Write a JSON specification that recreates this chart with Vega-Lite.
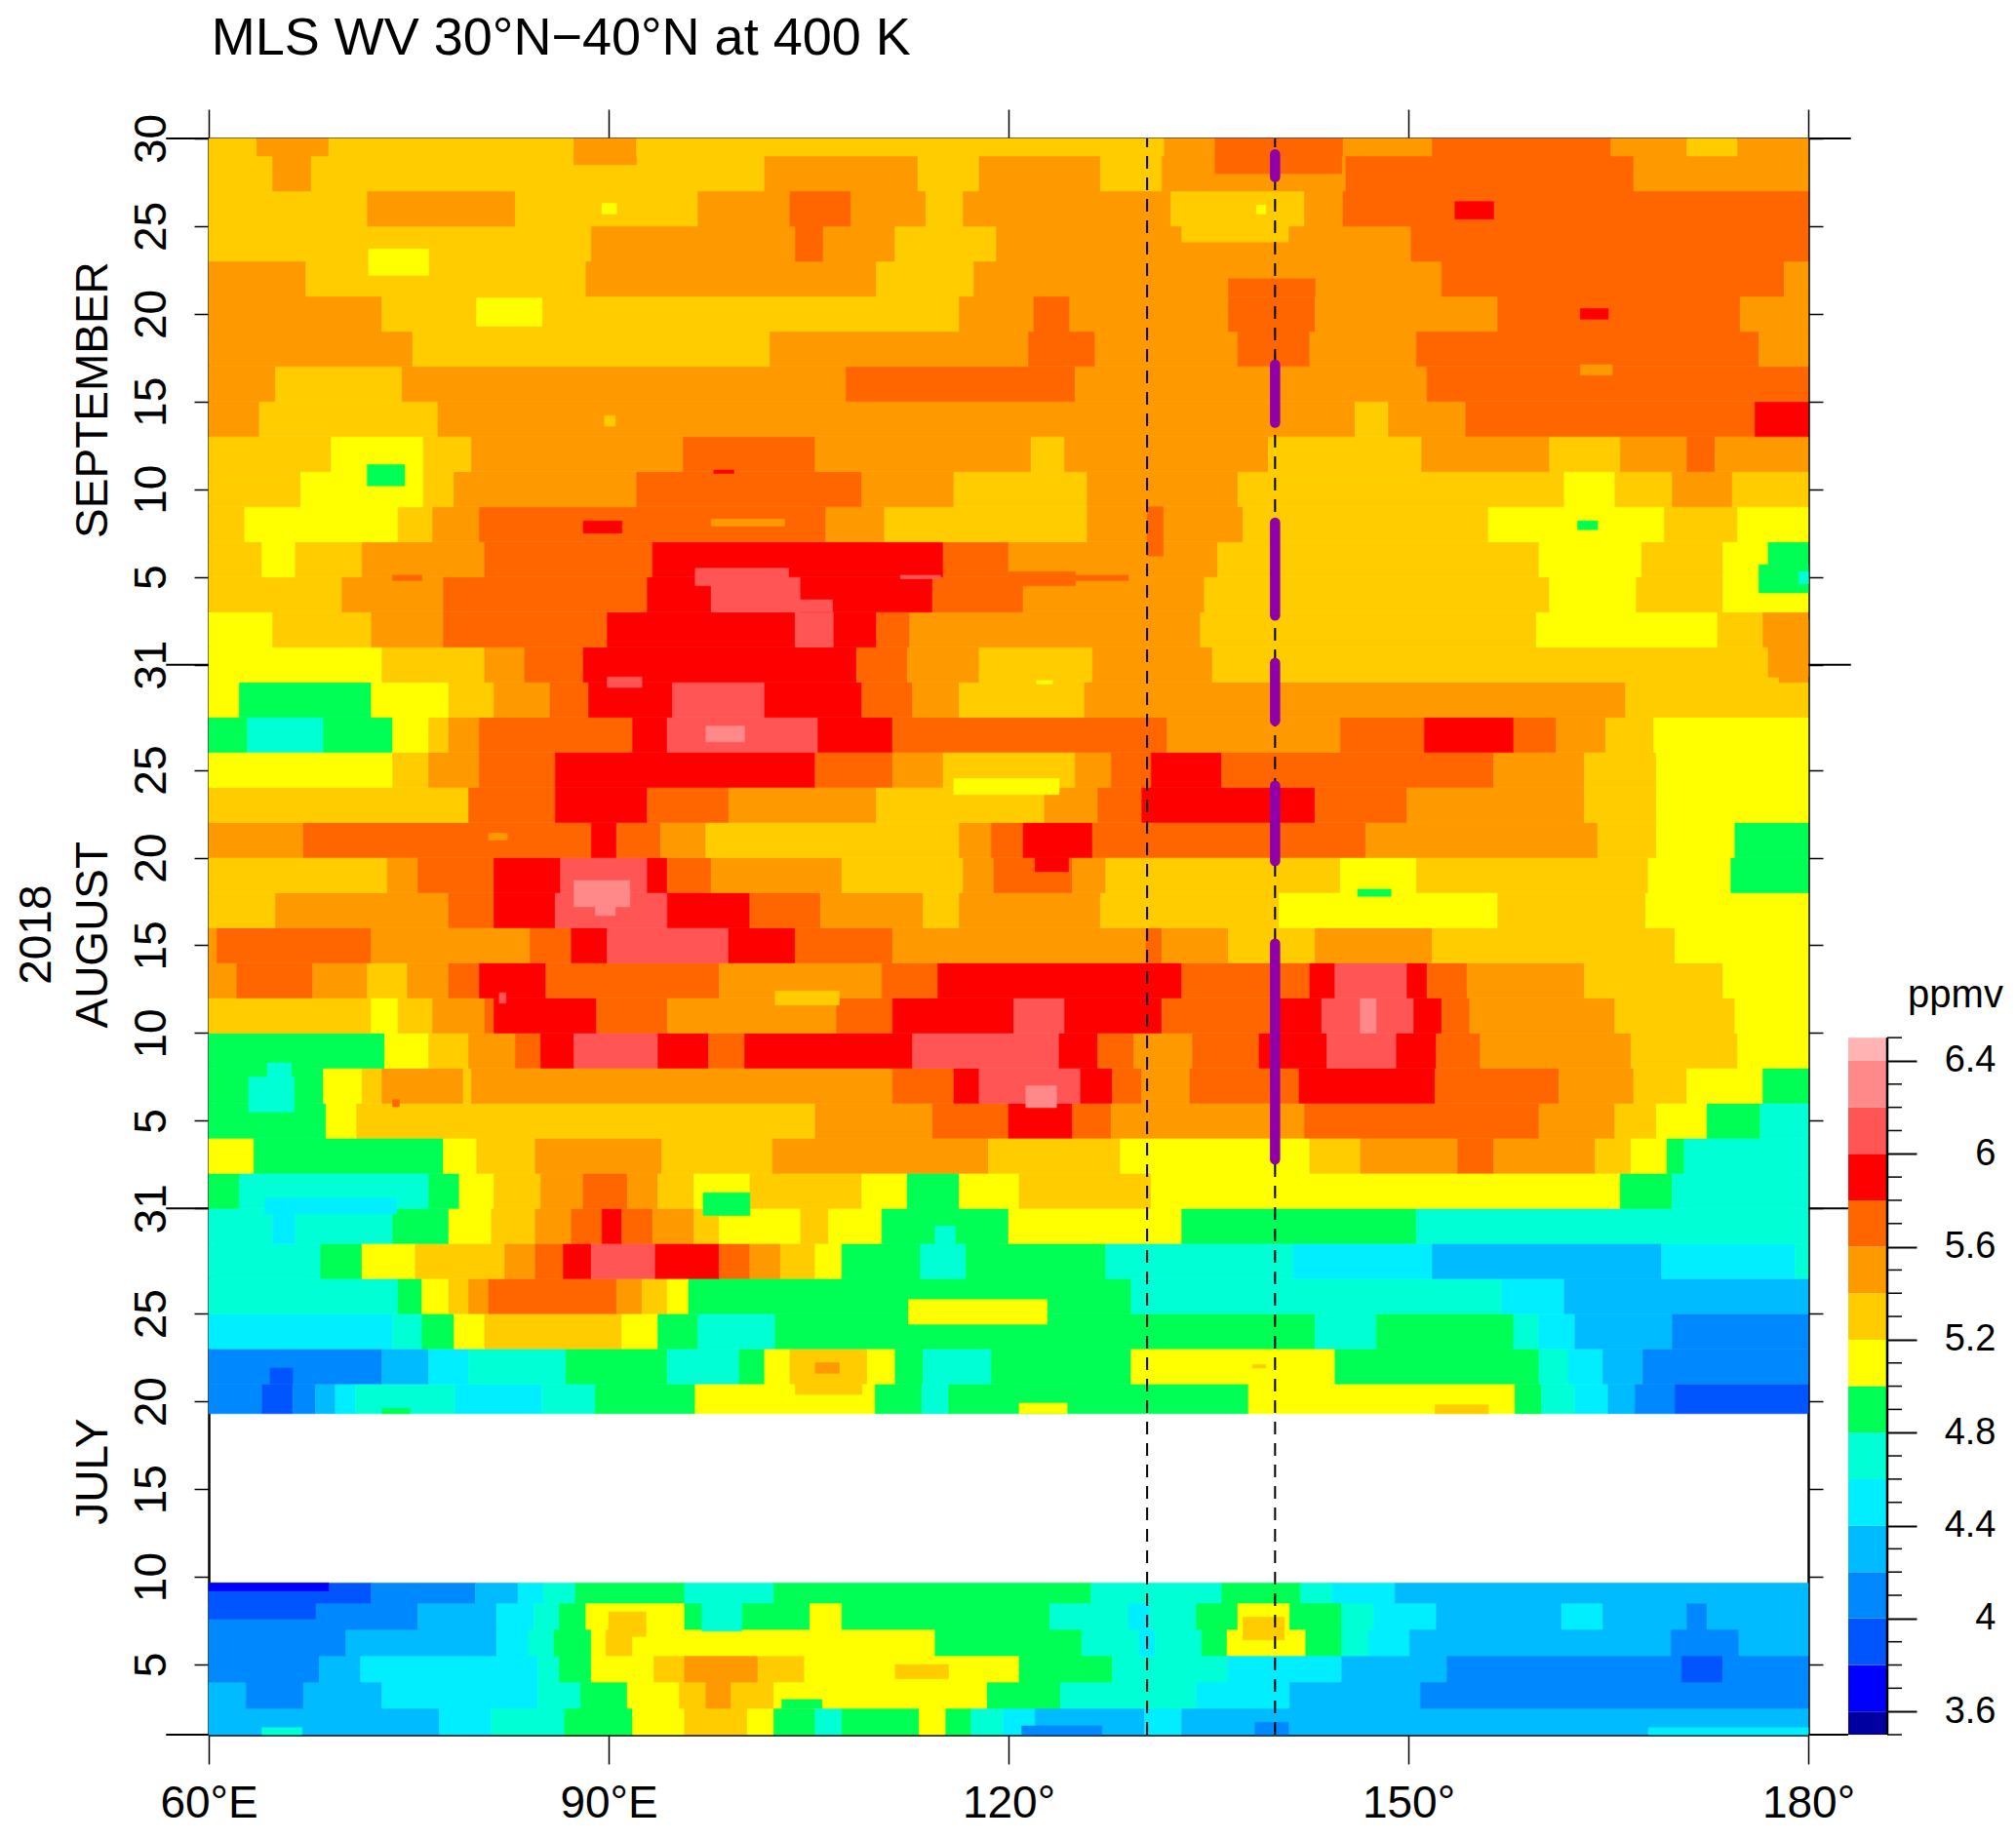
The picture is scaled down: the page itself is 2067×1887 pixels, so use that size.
{"$schema":"https://vega.github.io/schema/vega-lite/v6.json","background":"white","bounds":"flush","padding":{"left":14,"top":12,"right":5,"bottom":5},"spacing":41,"datasets":{"cells":[
{"a":60,"b":77.3,"c":1,"e":2.5,"v":4.3},{"a":77.3,"b":81.2,"c":1,"e":2.5,"v":4.5},{"a":81.2,"b":86.7,"c":1,"e":2.5,"v":4.7},{"a":86.7,"b":91.8,"c":1,"e":2.5,"v":4.9},{"a":91.8,"b":95.7,"c":1,"e":2.5,"v":5.1},{"a":95.7,"b":100.4,"c":1,"e":2.5,"v":5.3},{"a":100.4,"b":102.4,"c":1,"e":2.5,"v":5.1},{"a":102.4,"b":105.5,"c":1,"e":2.5,"v":4.9},{"a":105.5,"b":107.5,"c":1,"e":2.5,"v":4.7},{"a":107.5,"b":113.3,"c":1,"e":2.5,"v":4.9},{"a":113.3,"b":115.3,"c":1,"e":2.5,"v":5.1},{"a":115.3,"b":117.2,"c":1,"e":2.5,"v":4.9},{"a":117.2,"b":119.6,"c":1,"e":2.5,"v":4.7},{"a":119.6,"b":122,"c":1,"e":2.5,"v":4.5},{"a":122,"b":130.2,"c":1,"e":2.5,"v":4.3},{"a":130.2,"b":133,"c":1,"e":2.5,"v":4.5},{"a":133,"b":180,"c":1,"e":2.5,"v":4.3},
{"a":60,"b":62.8,"c":2.5,"e":4,"v":4.3},{"a":62.8,"b":67.1,"c":2.5,"e":4,"v":4.1},{"a":67.1,"b":73,"c":2.5,"e":4,"v":4.3},{"a":73,"b":84.7,"c":2.5,"e":4,"v":4.5},{"a":84.7,"b":87.9,"c":2.5,"e":4,"v":4.7},{"a":87.9,"b":91.4,"c":2.5,"e":4,"v":4.9},{"a":91.4,"b":95.3,"c":2.5,"e":4,"v":5.1},{"a":95.3,"b":97.3,"c":2.5,"e":4,"v":5.3},{"a":97.3,"b":99.2,"c":2.5,"e":4,"v":5.5},{"a":99.2,"b":102.4,"c":2.5,"e":4,"v":5.3},{"a":102.4,"b":118.4,"c":2.5,"e":4,"v":5.1},{"a":118.4,"b":123.9,"c":2.5,"e":4,"v":4.9},{"a":123.9,"b":134.1,"c":2.5,"e":4,"v":4.7},{"a":134.1,"b":141.1,"c":2.5,"e":4,"v":4.5},{"a":141.1,"b":150.9,"c":2.5,"e":4,"v":4.3},{"a":150.9,"b":180,"c":2.5,"e":4,"v":4.1},
{"a":60,"b":68.3,"c":4,"e":5.5,"v":4.1},{"a":68.3,"b":71.4,"c":4,"e":5.5,"v":4.3},{"a":71.4,"b":84.7,"c":4,"e":5.5,"v":4.5},{"a":84.7,"b":86.3,"c":4,"e":5.5,"v":4.7},{"a":86.3,"b":88.7,"c":4,"e":5.5,"v":4.9},{"a":88.7,"b":93.4,"c":4,"e":5.5,"v":5.1},{"a":93.4,"b":95.7,"c":4,"e":5.5,"v":5.3},{"a":95.7,"b":101.2,"c":4,"e":5.5,"v":5.5},{"a":101.2,"b":104.7,"c":4,"e":5.5,"v":5.3},{"a":104.7,"b":120.8,"c":4,"e":5.5,"v":5.1},{"a":120.8,"b":127.8,"c":4,"e":5.5,"v":4.9},{"a":127.8,"b":136.4,"c":4,"e":5.5,"v":4.7},{"a":136.4,"b":145,"c":4,"e":5.5,"v":4.5},{"a":145,"b":152.9,"c":4,"e":5.5,"v":4.3},{"a":152.9,"b":170.5,"c":4,"e":5.5,"v":4.1},{"a":170.5,"b":173.6,"c":4,"e":5.5,"v":3.9},{"a":173.6,"b":180,"c":4,"e":5.5,"v":4.1},
{"a":60,"b":70.3,"c":5.5,"e":7,"v":4.1},{"a":70.3,"b":81.6,"c":5.5,"e":7,"v":4.3},{"a":81.6,"b":84,"c":5.5,"e":7,"v":4.5},{"a":84,"b":85.9,"c":5.5,"e":7,"v":4.7},{"a":85.9,"b":88.7,"c":5.5,"e":7,"v":4.9},{"a":88.7,"b":89.8,"c":5.5,"e":7,"v":5.1},{"a":89.8,"b":91.8,"c":5.5,"e":7,"v":5.3},{"a":91.8,"b":114.5,"c":5.5,"e":7,"v":5.1},{"a":114.5,"b":125.5,"c":5.5,"e":7,"v":4.9},{"a":125.5,"b":129.8,"c":5.5,"e":7,"v":4.7},{"a":129.8,"b":131,"c":5.5,"e":7,"v":4.5},{"a":131,"b":134.5,"c":5.5,"e":7,"v":4.7},{"a":134.5,"b":136.4,"c":5.5,"e":7,"v":4.9},{"a":136.4,"b":142.3,"c":5.5,"e":7,"v":5.1},{"a":142.3,"b":145,"c":5.5,"e":7,"v":4.9},{"a":145,"b":147,"c":5.5,"e":7,"v":4.7},{"a":147,"b":150.1,"c":5.5,"e":7,"v":4.5},{"a":150.1,"b":169.7,"c":5.5,"e":7,"v":4.3},{"a":169.7,"b":174.8,"c":5.5,"e":7,"v":4.1},{"a":174.8,"b":180,"c":5.5,"e":7,"v":4.3},
{"a":60,"b":75.7,"c":7,"e":8.5,"v":4.1},{"a":75.7,"b":81.6,"c":7,"e":8.5,"v":4.3},{"a":81.6,"b":84.4,"c":7,"e":8.5,"v":4.5},{"a":84.4,"b":86.3,"c":7,"e":8.5,"v":4.7},{"a":86.3,"b":88.3,"c":7,"e":8.5,"v":4.9},{"a":88.3,"b":95.7,"c":7,"e":8.5,"v":5.1},{"a":95.7,"b":105.1,"c":7,"e":8.5,"v":4.9},{"a":105.1,"b":107.5,"c":7,"e":8.5,"v":5.1},{"a":107.5,"b":123.1,"c":7,"e":8.5,"v":4.9},{"a":123.1,"b":129,"c":7,"e":8.5,"v":4.7},{"a":129,"b":130.6,"c":7,"e":8.5,"v":4.5},{"a":130.6,"b":134.1,"c":7,"e":8.5,"v":4.7},{"a":134.1,"b":137.2,"c":7,"e":8.5,"v":4.9},{"a":137.2,"b":141.1,"c":7,"e":8.5,"v":5.1},{"a":141.1,"b":145,"c":7,"e":8.5,"v":4.9},{"a":145,"b":147.4,"c":7,"e":8.5,"v":4.7},{"a":147.4,"b":152.1,"c":7,"e":8.5,"v":4.5},{"a":152.1,"b":161.5,"c":7,"e":8.5,"v":4.3},{"a":161.5,"b":164.6,"c":7,"e":8.5,"v":4.5},{"a":164.6,"b":170.9,"c":7,"e":8.5,"v":4.3},{"a":170.9,"b":172.4,"c":7,"e":8.5,"v":4.1},{"a":172.4,"b":180,"c":7,"e":8.5,"v":4.3},
{"a":60,"b":72.2,"c":8.5,"e":9.65,"v":3.9},{"a":72.2,"b":80,"c":8.5,"e":9.65,"v":4.1},{"a":80,"b":83.2,"c":8.5,"e":9.65,"v":4.3},{"a":83.2,"b":85.1,"c":8.5,"e":9.65,"v":4.5},{"a":85.1,"b":87.5,"c":8.5,"e":9.65,"v":4.7},{"a":87.5,"b":95.7,"c":8.5,"e":9.65,"v":4.9},{"a":95.7,"b":102.4,"c":8.5,"e":9.65,"v":4.7},{"a":102.4,"b":126.2,"c":8.5,"e":9.65,"v":4.9},{"a":126.2,"b":136,"c":8.5,"e":9.65,"v":4.7},{"a":136,"b":141.9,"c":8.5,"e":9.65,"v":4.9},{"a":141.9,"b":144.3,"c":8.5,"e":9.65,"v":4.7},{"a":144.3,"b":149,"c":8.5,"e":9.65,"v":4.5},{"a":149,"b":180,"c":8.5,"e":9.65,"v":4.3},
{"a":60,"b":64,"c":19.3,"e":21,"v":4.1},{"a":64,"b":66.3,"c":19.3,"e":21,"v":3.9},{"a":66.3,"b":68,"c":19.3,"e":21,"v":4.1},{"a":68,"b":69.5,"c":19.3,"e":21,"v":4.3},{"a":69.5,"b":71,"c":19.3,"e":21,"v":4.5},{"a":71,"b":78.5,"c":19.3,"e":21,"v":4.7},{"a":78.5,"b":85,"c":19.3,"e":21,"v":4.5},{"a":85,"b":89,"c":19.3,"e":21,"v":4.7},{"a":89,"b":96.5,"c":19.3,"e":21,"v":4.9},{"a":96.5,"b":110,"c":19.3,"e":21,"v":5.1},{"a":110,"b":113.5,"c":19.3,"e":21,"v":4.9},{"a":113.5,"b":115.5,"c":19.3,"e":21,"v":4.7},{"a":115.5,"b":138,"c":19.3,"e":21,"v":4.9},{"a":138,"b":158,"c":19.3,"e":21,"v":5.1},{"a":158,"b":160,"c":19.3,"e":21,"v":4.9},{"a":160,"b":162.5,"c":19.3,"e":21,"v":4.7},{"a":162.5,"b":165,"c":19.3,"e":21,"v":4.5},{"a":165,"b":167,"c":19.3,"e":21,"v":4.3},{"a":167,"b":170,"c":19.3,"e":21,"v":4.1},{"a":170,"b":180,"c":19.3,"e":21,"v":3.9},
{"a":60,"b":73,"c":21,"e":23,"v":4.1},{"a":73,"b":76.5,"c":21,"e":23,"v":4.3},{"a":76.5,"b":79.5,"c":21,"e":23,"v":4.5},{"a":79.5,"b":86.8,"c":21,"e":23,"v":4.7},{"a":86.8,"b":94.4,"c":21,"e":23,"v":4.9},{"a":94.4,"b":99.8,"c":21,"e":23,"v":4.7},{"a":99.8,"b":101.7,"c":21,"e":23,"v":4.9},{"a":101.7,"b":103.6,"c":21,"e":23,"v":5.1},{"a":103.6,"b":109.4,"c":21,"e":23,"v":5.3},{"a":109.4,"b":111.5,"c":21,"e":23,"v":5.1},{"a":111.5,"b":113.6,"c":21,"e":23,"v":4.9},{"a":113.6,"b":118.7,"c":21,"e":23,"v":4.7},{"a":118.7,"b":129.2,"c":21,"e":23,"v":4.9},{"a":129.2,"b":144.5,"c":21,"e":23,"v":5.1},{"a":144.5,"b":159.8,"c":21,"e":23,"v":4.9},{"a":159.8,"b":162,"c":21,"e":23,"v":4.7},{"a":162,"b":164.6,"c":21,"e":23,"v":4.5},{"a":164.6,"b":167.6,"c":21,"e":23,"v":4.3},{"a":167.6,"b":180,"c":21,"e":23,"v":4.1},
{"a":60,"b":73.8,"c":23,"e":25,"v":4.5},{"a":73.8,"b":76,"c":23,"e":25,"v":4.7},{"a":76,"b":78.4,"c":23,"e":25,"v":4.9},{"a":78.4,"b":80.7,"c":23,"e":25,"v":5.1},{"a":80.7,"b":91,"c":23,"e":25,"v":5.3},{"a":91,"b":93.7,"c":23,"e":25,"v":5.1},{"a":93.7,"b":96.7,"c":23,"e":25,"v":4.9},{"a":96.7,"b":102.5,"c":23,"e":25,"v":4.7},{"a":102.5,"b":143,"c":23,"e":25,"v":4.9},{"a":143,"b":147.6,"c":23,"e":25,"v":4.7},{"a":147.6,"b":157.9,"c":23,"e":25,"v":4.9},{"a":157.9,"b":159.8,"c":23,"e":25,"v":4.7},{"a":159.8,"b":162.5,"c":23,"e":25,"v":4.5},{"a":162.5,"b":169.8,"c":23,"e":25,"v":4.3},{"a":169.8,"b":180,"c":23,"e":25,"v":4.1},
{"a":60,"b":74.2,"c":25,"e":27,"v":4.7},{"a":74.2,"b":76,"c":25,"e":27,"v":4.9},{"a":76,"b":78,"c":25,"e":27,"v":5.1},{"a":78,"b":79.5,"c":25,"e":27,"v":5.3},{"a":79.5,"b":81,"c":25,"e":27,"v":5.5},{"a":81,"b":90.6,"c":25,"e":27,"v":5.7},{"a":90.6,"b":92.5,"c":25,"e":27,"v":5.5},{"a":92.5,"b":94.4,"c":25,"e":27,"v":5.3},{"a":94.4,"b":96,"c":25,"e":27,"v":5.1},{"a":96,"b":129.2,"c":25,"e":27,"v":4.9},{"a":129.2,"b":157,"c":25,"e":27,"v":4.7},{"a":157,"b":161.7,"c":25,"e":27,"v":4.5},{"a":161.7,"b":180,"c":25,"e":27,"v":4.3},
{"a":60,"b":68.4,"c":27,"e":29,"v":4.7},{"a":68.4,"b":71.5,"c":27,"e":29,"v":4.9},{"a":71.5,"b":75.5,"c":27,"e":29,"v":5.1},{"a":75.5,"b":82.2,"c":27,"e":29,"v":5.3},{"a":82.2,"b":84.5,"c":27,"e":29,"v":5.5},{"a":84.5,"b":86.6,"c":27,"e":29,"v":5.7},{"a":86.6,"b":88.7,"c":27,"e":29,"v":5.9},{"a":88.7,"b":93.5,"c":27,"e":29,"v":6.1},{"a":93.5,"b":98.3,"c":27,"e":29,"v":5.9},{"a":98.3,"b":100.6,"c":27,"e":29,"v":5.7},{"a":100.6,"b":102.9,"c":27,"e":29,"v":5.5},{"a":102.9,"b":105.5,"c":27,"e":29,"v":5.3},{"a":105.5,"b":107.5,"c":27,"e":29,"v":5.1},{"a":107.5,"b":113.4,"c":27,"e":29,"v":4.9},{"a":113.4,"b":116.8,"c":27,"e":29,"v":4.7},{"a":116.8,"b":127.3,"c":27,"e":29,"v":4.9},{"a":127.3,"b":141.4,"c":27,"e":29,"v":4.7},{"a":141.4,"b":151.8,"c":27,"e":29,"v":4.5},{"a":151.8,"b":169,"c":27,"e":29,"v":4.3},{"a":169,"b":179,"c":27,"e":29,"v":4.5},{"a":179,"b":180,"c":27,"e":29,"v":4.7},
{"a":60,"b":64.8,"c":29,"e":31,"v":4.7},{"a":64.8,"b":66.5,"c":29,"e":31,"v":4.5},{"a":66.5,"b":73.8,"c":29,"e":31,"v":4.7},{"a":73.8,"b":78,"c":29,"e":31,"v":4.9},{"a":78,"b":81.2,"c":29,"e":31,"v":5.1},{"a":81.2,"b":84.5,"c":29,"e":31,"v":5.3},{"a":84.5,"b":87.2,"c":29,"e":31,"v":5.5},{"a":87.2,"b":89.5,"c":29,"e":31,"v":5.7},{"a":89.5,"b":91,"c":29,"e":31,"v":5.9},{"a":91,"b":93.3,"c":29,"e":31,"v":5.7},{"a":93.3,"b":96.4,"c":29,"e":31,"v":5.5},{"a":96.4,"b":98.3,"c":29,"e":31,"v":5.3},{"a":98.3,"b":104.4,"c":29,"e":31,"v":5.1},{"a":104.4,"b":106.5,"c":29,"e":31,"v":5.3},{"a":106.5,"b":110.5,"c":29,"e":31,"v":5.1},{"a":110.5,"b":120,"c":29,"e":31,"v":4.9},{"a":120,"b":133,"c":29,"e":31,"v":5.1},{"a":133,"b":150.6,"c":29,"e":31,"v":4.9},{"a":150.6,"b":180,"c":29,"e":31,"v":4.7},
{"a":60,"b":62.3,"c":31,"e":33,"v":4.9},{"a":62.3,"b":76.5,"c":31,"e":33,"v":4.7},{"a":76.5,"b":78.8,"c":31,"e":33,"v":4.9},{"a":78.8,"b":81.4,"c":31,"e":33,"v":5.1},{"a":81.4,"b":84.9,"c":31,"e":33,"v":5.3},{"a":84.9,"b":88.1,"c":31,"e":33,"v":5.5},{"a":88.1,"b":91.4,"c":31,"e":33,"v":5.7},{"a":91.4,"b":93.7,"c":31,"e":33,"v":5.5},{"a":93.7,"b":96.4,"c":31,"e":33,"v":5.3},{"a":96.4,"b":100.6,"c":31,"e":33,"v":5.1},{"a":100.6,"b":109,"c":31,"e":33,"v":5.3},{"a":109,"b":112.4,"c":31,"e":33,"v":5.1},{"a":112.4,"b":116.3,"c":31,"e":33,"v":4.9},{"a":116.3,"b":120.8,"c":31,"e":33,"v":5.1},{"a":120.8,"b":130.7,"c":31,"e":33,"v":5.3},{"a":130.7,"b":165.9,"c":31,"e":33,"v":5.1},{"a":165.9,"b":169.8,"c":31,"e":33,"v":4.9},{"a":169.8,"b":180,"c":31,"e":33,"v":4.7},
{"a":60,"b":63.4,"c":33,"e":35,"v":5.1},{"a":63.4,"b":77.6,"c":33,"e":35,"v":4.9},{"a":77.6,"b":80.1,"c":33,"e":35,"v":5.1},{"a":80.1,"b":84.5,"c":33,"e":35,"v":5.3},{"a":84.5,"b":94,"c":33,"e":35,"v":5.5},{"a":94,"b":102.3,"c":33,"e":35,"v":5.3},{"a":102.3,"b":118.5,"c":33,"e":35,"v":5.5},{"a":118.5,"b":128.4,"c":33,"e":35,"v":5.3},{"a":128.4,"b":142.6,"c":33,"e":35,"v":5.1},{"a":142.6,"b":146.4,"c":33,"e":35,"v":5.3},{"a":146.4,"b":153.7,"c":33,"e":35,"v":5.5},{"a":153.7,"b":156.4,"c":33,"e":35,"v":5.7},{"a":156.4,"b":164,"c":33,"e":35,"v":5.5},{"a":164,"b":166.7,"c":33,"e":35,"v":5.3},{"a":166.7,"b":169.4,"c":33,"e":35,"v":5.1},{"a":169.4,"b":170.7,"c":33,"e":35,"v":4.9},{"a":170.7,"b":180,"c":33,"e":35,"v":4.7},
{"a":60,"b":68.8,"c":35,"e":37,"v":4.9},{"a":68.8,"b":71.1,"c":35,"e":37,"v":5.1},{"a":71.1,"b":105.5,"c":35,"e":37,"v":5.3},{"a":105.5,"b":114.3,"c":35,"e":37,"v":5.5},{"a":114.3,"b":120,"c":35,"e":37,"v":5.7},{"a":120,"b":124.8,"c":35,"e":37,"v":5.9},{"a":124.8,"b":127.7,"c":35,"e":37,"v":5.7},{"a":127.7,"b":142.2,"c":35,"e":37,"v":5.5},{"a":142.2,"b":159.8,"c":35,"e":37,"v":5.7},{"a":159.8,"b":165.5,"c":35,"e":37,"v":5.5},{"a":165.5,"b":168.6,"c":35,"e":37,"v":5.3},{"a":168.6,"b":172.4,"c":35,"e":37,"v":5.1},{"a":172.4,"b":176.4,"c":35,"e":37,"v":4.9},{"a":176.4,"b":180,"c":35,"e":37,"v":4.7},
{"a":60,"b":68.6,"c":37,"e":39,"v":4.9},{"a":68.6,"b":71.5,"c":37,"e":39,"v":5.1},{"a":71.5,"b":73,"c":37,"e":39,"v":5.3},{"a":73,"b":79.1,"c":37,"e":39,"v":5.5},{"a":79.1,"b":79.7,"c":37,"e":39,"v":5.3},{"a":79.7,"b":111.3,"c":37,"e":39,"v":5.5},{"a":111.3,"b":115.9,"c":37,"e":39,"v":5.7},{"a":115.9,"b":117.8,"c":37,"e":39,"v":5.9},{"a":117.8,"b":125.4,"c":37,"e":39,"v":6.1},{"a":125.4,"b":127.8,"c":37,"e":39,"v":5.9},{"a":127.8,"b":130,"c":37,"e":39,"v":5.7},{"a":130,"b":133.6,"c":37,"e":39,"v":5.5},{"a":133.6,"b":141.8,"c":37,"e":39,"v":5.7},{"a":141.8,"b":152,"c":37,"e":39,"v":5.9},{"a":152,"b":161.3,"c":37,"e":39,"v":5.7},{"a":161.3,"b":166.9,"c":37,"e":39,"v":5.5},{"a":166.9,"b":170.9,"c":37,"e":39,"v":5.3},{"a":170.9,"b":176.6,"c":37,"e":39,"v":5.1},{"a":176.6,"b":180,"c":37,"e":39,"v":4.9},
{"a":60,"b":73.2,"c":39,"e":41,"v":4.9},{"a":73.2,"b":76.5,"c":39,"e":41,"v":5.1},{"a":76.5,"b":79.5,"c":39,"e":41,"v":5.3},{"a":79.5,"b":83,"c":39,"e":41,"v":5.5},{"a":83,"b":84.9,"c":39,"e":41,"v":5.7},{"a":84.9,"b":87.4,"c":39,"e":41,"v":5.9},{"a":87.4,"b":93.7,"c":39,"e":41,"v":6.1},{"a":93.7,"b":97.5,"c":39,"e":41,"v":5.9},{"a":97.5,"b":100.2,"c":39,"e":41,"v":5.7},{"a":100.2,"b":112.8,"c":39,"e":41,"v":5.9},{"a":112.8,"b":123.8,"c":39,"e":41,"v":6.1},{"a":123.8,"b":126.7,"c":39,"e":41,"v":5.9},{"a":126.7,"b":129.4,"c":39,"e":41,"v":5.7},{"a":129.4,"b":133.8,"c":39,"e":41,"v":5.5},{"a":133.8,"b":138.8,"c":39,"e":41,"v":5.7},{"a":138.8,"b":143.9,"c":39,"e":41,"v":5.9},{"a":143.9,"b":149.1,"c":39,"e":41,"v":6.1},{"a":149.1,"b":152.1,"c":39,"e":41,"v":5.9},{"a":152.1,"b":155.4,"c":39,"e":41,"v":5.7},{"a":155.4,"b":166.7,"c":39,"e":41,"v":5.5},{"a":166.7,"b":174.7,"c":39,"e":41,"v":5.3},{"a":174.7,"b":180,"c":39,"e":41,"v":5.1},
{"a":60,"b":72.2,"c":41,"e":43,"v":5.3},{"a":72.2,"b":74.2,"c":41,"e":43,"v":5.1},{"a":74.2,"b":76.8,"c":41,"e":43,"v":5.3},{"a":76.8,"b":80.7,"c":41,"e":43,"v":5.5},{"a":80.7,"b":81.4,"c":41,"e":43,"v":5.7},{"a":81.4,"b":89.1,"c":41,"e":43,"v":5.9},{"a":89.1,"b":94.4,"c":41,"e":43,"v":5.7},{"a":94.4,"b":107.1,"c":41,"e":43,"v":5.5},{"a":107.1,"b":111.3,"c":41,"e":43,"v":5.7},{"a":111.3,"b":120.4,"c":41,"e":43,"v":5.9},{"a":120.4,"b":124.2,"c":41,"e":43,"v":6.1},{"a":124.2,"b":131.5,"c":41,"e":43,"v":5.9},{"a":131.5,"b":140.3,"c":41,"e":43,"v":5.7},{"a":140.3,"b":143.5,"c":41,"e":43,"v":5.9},{"a":143.5,"b":146.4,"c":41,"e":43,"v":6.1},{"a":146.4,"b":147.6,"c":41,"e":43,"v":6.3},{"a":147.6,"b":150.4,"c":41,"e":43,"v":6.1},{"a":150.4,"b":152.5,"c":41,"e":43,"v":5.9},{"a":152.5,"b":154.6,"c":41,"e":43,"v":5.7},{"a":154.6,"b":165.5,"c":41,"e":43,"v":5.5},{"a":165.5,"b":174.5,"c":41,"e":43,"v":5.3},{"a":174.5,"b":180,"c":41,"e":43,"v":5.1},
{"a":60,"b":62.1,"c":43,"e":45,"v":5.5},{"a":62.1,"b":67.8,"c":43,"e":45,"v":5.7},{"a":67.8,"b":71.9,"c":43,"e":45,"v":5.5},{"a":71.9,"b":74.9,"c":43,"e":45,"v":5.3},{"a":74.9,"b":78,"c":43,"e":45,"v":5.5},{"a":78,"b":80.3,"c":43,"e":45,"v":5.7},{"a":80.3,"b":85.3,"c":43,"e":45,"v":5.9},{"a":85.3,"b":98.3,"c":43,"e":45,"v":5.7},{"a":98.3,"b":110.5,"c":43,"e":45,"v":5.5},{"a":110.5,"b":114.7,"c":43,"e":45,"v":5.7},{"a":114.7,"b":133,"c":43,"e":45,"v":5.9},{"a":133,"b":142.6,"c":43,"e":45,"v":5.7},{"a":142.6,"b":144.5,"c":43,"e":45,"v":5.9},{"a":144.5,"b":149.9,"c":43,"e":45,"v":6.1},{"a":149.9,"b":151.4,"c":43,"e":45,"v":5.9},{"a":151.4,"b":154.4,"c":43,"e":45,"v":5.7},{"a":154.4,"b":163.2,"c":43,"e":45,"v":5.5},{"a":163.2,"b":173.6,"c":43,"e":45,"v":5.3},{"a":173.6,"b":180,"c":43,"e":45,"v":5.1},
{"a":60,"b":60.6,"c":45,"e":47,"v":5.5},{"a":60.6,"b":72.2,"c":45,"e":47,"v":5.7},{"a":72.2,"b":84.1,"c":45,"e":47,"v":5.5},{"a":84.1,"b":87.2,"c":45,"e":47,"v":5.7},{"a":87.2,"b":89.9,"c":45,"e":47,"v":5.9},{"a":89.9,"b":99,"c":45,"e":47,"v":6.1},{"a":99,"b":104,"c":45,"e":47,"v":5.9},{"a":104,"b":111.3,"c":45,"e":47,"v":5.7},{"a":111.3,"b":130.3,"c":45,"e":47,"v":5.5},{"a":130.3,"b":131.5,"c":45,"e":47,"v":5.7},{"a":131.5,"b":136.5,"c":45,"e":47,"v":5.5},{"a":136.5,"b":143,"c":45,"e":47,"v":5.3},{"a":143,"b":151.8,"c":45,"e":47,"v":5.5},{"a":151.8,"b":170,"c":45,"e":47,"v":5.3},{"a":170,"b":180,"c":45,"e":47,"v":5.1},
{"a":60,"b":65,"c":47,"e":49,"v":5.3},{"a":65,"b":78,"c":47,"e":49,"v":5.5},{"a":78,"b":81.4,"c":47,"e":49,"v":5.7},{"a":81.4,"b":86,"c":47,"e":49,"v":5.9},{"a":86,"b":94.4,"c":47,"e":49,"v":6.1},{"a":94.4,"b":100.6,"c":47,"e":49,"v":5.9},{"a":100.6,"b":105.9,"c":47,"e":49,"v":5.7},{"a":105.9,"b":113.6,"c":47,"e":49,"v":5.5},{"a":113.6,"b":116.3,"c":47,"e":49,"v":5.3},{"a":116.3,"b":126.9,"c":47,"e":49,"v":5.5},{"a":126.9,"b":140.3,"c":47,"e":49,"v":5.3},{"a":140.3,"b":156.7,"c":47,"e":49,"v":5.1},{"a":156.7,"b":167.8,"c":47,"e":49,"v":5.3},{"a":167.8,"b":180,"c":47,"e":49,"v":5.1},
{"a":60,"b":73.4,"c":49,"e":51,"v":5.3},{"a":73.4,"b":75.7,"c":49,"e":51,"v":5.5},{"a":75.7,"b":81.4,"c":49,"e":51,"v":5.7},{"a":81.4,"b":86.4,"c":49,"e":51,"v":5.9},{"a":86.4,"b":92.9,"c":49,"e":51,"v":6.1},{"a":92.9,"b":94.4,"c":49,"e":51,"v":5.9},{"a":94.4,"b":97.7,"c":49,"e":51,"v":5.7},{"a":97.7,"b":107.5,"c":49,"e":51,"v":5.5},{"a":107.5,"b":116.6,"c":49,"e":51,"v":5.3},{"a":116.6,"b":118.9,"c":49,"e":51,"v":5.5},{"a":118.9,"b":124.8,"c":49,"e":51,"v":5.7},{"a":124.8,"b":127.3,"c":49,"e":51,"v":5.5},{"a":127.3,"b":144.9,"c":49,"e":51,"v":5.3},{"a":144.9,"b":150.6,"c":49,"e":51,"v":5.1},{"a":150.6,"b":168,"c":49,"e":51,"v":5.3},{"a":168,"b":174.2,"c":49,"e":51,"v":5.1},{"a":174.2,"b":180,"c":49,"e":51,"v":4.9},
{"a":60,"b":67.1,"c":51,"e":53,"v":5.5},{"a":67.1,"b":88.7,"c":51,"e":53,"v":5.7},{"a":88.7,"b":90.6,"c":51,"e":53,"v":5.9},{"a":90.6,"b":93.9,"c":51,"e":53,"v":5.7},{"a":93.9,"b":97.3,"c":51,"e":53,"v":5.5},{"a":97.3,"b":116.3,"c":51,"e":53,"v":5.3},{"a":116.3,"b":118.7,"c":51,"e":53,"v":5.5},{"a":118.7,"b":121.1,"c":51,"e":53,"v":5.7},{"a":121.1,"b":126.3,"c":51,"e":53,"v":5.9},{"a":126.3,"b":146.8,"c":51,"e":53,"v":5.7},{"a":146.8,"b":164.2,"c":51,"e":53,"v":5.5},{"a":164.2,"b":168.6,"c":51,"e":53,"v":5.3},{"a":168.6,"b":174.5,"c":51,"e":53,"v":5.1},{"a":174.5,"b":180,"c":51,"e":53,"v":4.9},
{"a":60,"b":79.5,"c":53,"e":55,"v":5.3},{"a":79.5,"b":86,"c":53,"e":55,"v":5.7},{"a":86,"b":92.9,"c":53,"e":55,"v":5.9},{"a":92.9,"b":99,"c":53,"e":55,"v":5.7},{"a":99,"b":110.1,"c":53,"e":55,"v":5.5},{"a":110.1,"b":122.7,"c":53,"e":55,"v":5.3},{"a":122.7,"b":126.7,"c":53,"e":55,"v":5.5},{"a":126.7,"b":130,"c":53,"e":55,"v":5.7},{"a":130,"b":143,"c":53,"e":55,"v":5.9},{"a":143,"b":149.9,"c":53,"e":55,"v":5.7},{"a":149.9,"b":163.2,"c":53,"e":55,"v":5.5},{"a":163.2,"b":168.6,"c":53,"e":55,"v":5.3},{"a":168.6,"b":180,"c":53,"e":55,"v":5.1},
{"a":60,"b":73.8,"c":55,"e":57,"v":5.1},{"a":73.8,"b":76.5,"c":55,"e":57,"v":5.3},{"a":76.5,"b":80.3,"c":55,"e":57,"v":5.5},{"a":80.3,"b":86,"c":55,"e":57,"v":5.7},{"a":86,"b":105.5,"c":55,"e":57,"v":5.9},{"a":105.5,"b":111.3,"c":55,"e":57,"v":5.7},{"a":111.3,"b":115.1,"c":55,"e":57,"v":5.5},{"a":115.1,"b":125,"c":55,"e":57,"v":5.3},{"a":125,"b":127.7,"c":55,"e":57,"v":5.5},{"a":127.7,"b":130.7,"c":55,"e":57,"v":5.7},{"a":130.7,"b":136,"c":55,"e":57,"v":5.9},{"a":136,"b":156.4,"c":55,"e":57,"v":5.7},{"a":156.4,"b":163.2,"c":55,"e":57,"v":5.5},{"a":163.2,"b":168.6,"c":55,"e":57,"v":5.3},{"a":168.6,"b":180,"c":55,"e":57,"v":5.1},
{"a":60,"b":62.9,"c":57,"e":59,"v":4.9},{"a":62.9,"b":68.6,"c":57,"e":59,"v":4.7},{"a":68.6,"b":73.8,"c":57,"e":59,"v":4.9},{"a":73.8,"b":76.5,"c":57,"e":59,"v":5.1},{"a":76.5,"b":78,"c":57,"e":59,"v":5.3},{"a":78,"b":80.3,"c":57,"e":59,"v":5.5},{"a":80.3,"b":91.8,"c":57,"e":59,"v":5.7},{"a":91.8,"b":94.4,"c":57,"e":59,"v":5.9},{"a":94.4,"b":105.7,"c":57,"e":59,"v":6.1},{"a":105.7,"b":111.3,"c":57,"e":59,"v":5.9},{"a":111.3,"b":131.9,"c":57,"e":59,"v":5.7},{"a":131.9,"b":144.9,"c":57,"e":59,"v":5.5},{"a":144.9,"b":151.2,"c":57,"e":59,"v":5.7},{"a":151.2,"b":157.9,"c":57,"e":59,"v":5.9},{"a":157.9,"b":161.1,"c":57,"e":59,"v":5.7},{"a":161.1,"b":164.8,"c":57,"e":59,"v":5.5},{"a":164.8,"b":168.4,"c":57,"e":59,"v":5.3},{"a":168.4,"b":180,"c":57,"e":59,"v":5.1},
{"a":60,"b":62.3,"c":59,"e":61,"v":5.1},{"a":62.3,"b":72.2,"c":59,"e":61,"v":4.9},{"a":72.2,"b":78,"c":59,"e":61,"v":5.1},{"a":78,"b":81.4,"c":59,"e":61,"v":5.3},{"a":81.4,"b":85.6,"c":59,"e":61,"v":5.5},{"a":85.6,"b":88.5,"c":59,"e":61,"v":5.7},{"a":88.5,"b":94.8,"c":59,"e":61,"v":5.9},{"a":94.8,"b":101.7,"c":59,"e":61,"v":6.1},{"a":101.7,"b":109,"c":59,"e":61,"v":5.9},{"a":109,"b":112.8,"c":59,"e":61,"v":5.7},{"a":112.8,"b":116.3,"c":59,"e":61,"v":5.5},{"a":116.3,"b":125.7,"c":59,"e":61,"v":5.3},{"a":125.7,"b":166.3,"c":59,"e":61,"v":5.5},{"a":166.3,"b":180,"c":59,"e":61,"v":5.3},
{"a":60,"b":73,"c":61,"e":63,"v":5.1},{"a":73,"b":80.7,"c":61,"e":63,"v":5.3},{"a":80.7,"b":83.7,"c":61,"e":63,"v":5.5},{"a":83.7,"b":88.1,"c":61,"e":63,"v":5.7},{"a":88.1,"b":108.6,"c":61,"e":63,"v":5.9},{"a":108.6,"b":112.4,"c":61,"e":63,"v":5.7},{"a":112.4,"b":117.8,"c":61,"e":63,"v":5.5},{"a":117.8,"b":126.3,"c":61,"e":63,"v":5.3},{"a":126.3,"b":135.3,"c":61,"e":63,"v":5.5},{"a":135.3,"b":177.8,"c":61,"e":63,"v":5.3},{"a":177.8,"b":180,"c":61,"e":63,"v":5.5},
{"a":60,"b":64.8,"c":63,"e":65,"v":5.1},{"a":64.8,"b":72.2,"c":63,"e":65,"v":5.3},{"a":72.2,"b":77.6,"c":63,"e":65,"v":5.5},{"a":77.6,"b":89.9,"c":63,"e":65,"v":5.7},{"a":89.9,"b":104,"c":63,"e":65,"v":5.9},{"a":104,"b":106.9,"c":63,"e":65,"v":6.1},{"a":106.9,"b":110.1,"c":63,"e":65,"v":5.9},{"a":110.1,"b":112.6,"c":63,"e":65,"v":5.7},{"a":112.6,"b":134.4,"c":63,"e":65,"v":5.5},{"a":134.4,"b":159.6,"c":63,"e":65,"v":5.3},{"a":159.6,"b":173.2,"c":63,"e":65,"v":5.1},{"a":173.2,"b":176.6,"c":63,"e":65,"v":5.3},{"a":176.6,"b":180,"c":63,"e":65,"v":5.5},
{"a":60,"b":70,"c":65,"e":67,"v":5.3},{"a":70,"b":77.6,"c":65,"e":67,"v":5.5},{"a":77.6,"b":92.9,"c":65,"e":67,"v":5.7},{"a":92.9,"b":97.7,"c":65,"e":67,"v":5.9},{"a":97.7,"b":104.4,"c":65,"e":67,"v":6.1},{"a":104.4,"b":114.3,"c":65,"e":67,"v":5.9},{"a":114.3,"b":121.1,"c":65,"e":67,"v":5.7},{"a":121.1,"b":134.7,"c":65,"e":67,"v":5.5},{"a":134.7,"b":160.6,"c":65,"e":67,"v":5.3},{"a":160.6,"b":167.1,"c":65,"e":67,"v":5.1},{"a":167.1,"b":173.6,"c":65,"e":67,"v":5.3},{"a":173.6,"b":180,"c":65,"e":67,"v":5.1},
{"a":60,"b":64,"c":67,"e":69,"v":5.3},{"a":64,"b":66.5,"c":67,"e":69,"v":5.1},{"a":66.5,"b":71.5,"c":67,"e":69,"v":5.3},{"a":71.5,"b":80.7,"c":67,"e":69,"v":5.5},{"a":80.7,"b":93.3,"c":67,"e":69,"v":5.7},{"a":93.3,"b":115.1,"c":67,"e":69,"v":5.9},{"a":115.1,"b":120,"c":67,"e":69,"v":5.7},{"a":120,"b":135.7,"c":67,"e":69,"v":5.5},{"a":135.7,"b":159.8,"c":67,"e":69,"v":5.3},{"a":159.8,"b":167.5,"c":67,"e":69,"v":5.1},{"a":167.5,"b":173.6,"c":67,"e":69,"v":5.3},{"a":173.6,"b":177,"c":67,"e":69,"v":5.1},{"a":177,"b":180,"c":67,"e":69,"v":4.9},
{"a":60,"b":62.7,"c":69,"e":71,"v":5.3},{"a":62.7,"b":74.2,"c":69,"e":71,"v":5.1},{"a":74.2,"b":76.8,"c":69,"e":71,"v":5.3},{"a":76.8,"b":80.3,"c":69,"e":71,"v":5.5},{"a":80.3,"b":106.3,"c":69,"e":71,"v":5.7},{"a":106.3,"b":110.7,"c":69,"e":71,"v":5.5},{"a":110.7,"b":125.9,"c":69,"e":71,"v":5.3},{"a":125.9,"b":137.6,"c":69,"e":71,"v":5.5},{"a":137.6,"b":156,"c":69,"e":71,"v":5.3},{"a":156,"b":169.2,"c":69,"e":71,"v":5.1},{"a":169.2,"b":174.7,"c":69,"e":71,"v":5.3},{"a":174.7,"b":180,"c":69,"e":71,"v":5.1},
{"a":60,"b":66.9,"c":71,"e":73,"v":5.3},{"a":66.9,"b":76.1,"c":71,"e":73,"v":5.1},{"a":76.1,"b":78.4,"c":71,"e":73,"v":5.3},{"a":78.4,"b":92.1,"c":71,"e":73,"v":5.5},{"a":92.1,"b":109,"c":71,"e":73,"v":5.7},{"a":109,"b":115.9,"c":71,"e":73,"v":5.5},{"a":115.9,"b":125.9,"c":71,"e":73,"v":5.3},{"a":125.9,"b":137.2,"c":71,"e":73,"v":5.5},{"a":137.2,"b":161.7,"c":71,"e":73,"v":5.3},{"a":161.7,"b":165.5,"c":71,"e":73,"v":5.1},{"a":165.5,"b":169.8,"c":71,"e":73,"v":5.3},{"a":169.8,"b":174.3,"c":71,"e":73,"v":5.5},{"a":174.3,"b":180,"c":71,"e":73,"v":5.3},
{"a":60,"b":69.2,"c":73,"e":75,"v":5.3},{"a":69.2,"b":76.1,"c":73,"e":75,"v":5.1},{"a":76.1,"b":79.7,"c":73,"e":75,"v":5.3},{"a":79.7,"b":95.6,"c":73,"e":75,"v":5.5},{"a":95.6,"b":105.5,"c":73,"e":75,"v":5.7},{"a":105.5,"b":121.7,"c":73,"e":75,"v":5.5},{"a":121.7,"b":124.2,"c":73,"e":75,"v":5.3},{"a":124.2,"b":139.5,"c":73,"e":75,"v":5.5},{"a":139.5,"b":151,"c":73,"e":75,"v":5.3},{"a":151,"b":160.6,"c":73,"e":75,"v":5.5},{"a":160.6,"b":165.9,"c":73,"e":75,"v":5.3},{"a":165.9,"b":170.9,"c":73,"e":75,"v":5.5},{"a":170.9,"b":173,"c":73,"e":75,"v":5.7},{"a":173,"b":180,"c":73,"e":75,"v":5.5},
{"a":60,"b":63.8,"c":75,"e":77,"v":5.5},{"a":63.8,"b":77.2,"c":75,"e":77,"v":5.3},{"a":77.2,"b":146,"c":75,"e":77,"v":5.5},{"a":146,"b":148.5,"c":75,"e":77,"v":5.3},{"a":148.5,"b":154.3,"c":75,"e":77,"v":5.5},{"a":154.3,"b":176,"c":75,"e":77,"v":5.7},{"a":176,"b":180,"c":75,"e":77,"v":5.9},
{"a":60,"b":65,"c":77,"e":79,"v":5.5},{"a":65,"b":74.5,"c":77,"e":79,"v":5.3},{"a":74.5,"b":107.8,"c":77,"e":79,"v":5.5},{"a":107.8,"b":125,"c":77,"e":79,"v":5.7},{"a":125,"b":151.4,"c":77,"e":79,"v":5.5},{"a":151.4,"b":180,"c":77,"e":79,"v":5.7},
{"a":60,"b":75.3,"c":79,"e":81,"v":5.5},{"a":75.3,"b":102.1,"c":79,"e":81,"v":5.3},{"a":102.1,"b":121.5,"c":79,"e":81,"v":5.5},{"a":121.5,"b":126.5,"c":79,"e":81,"v":5.7},{"a":126.5,"b":137.2,"c":79,"e":81,"v":5.5},{"a":137.2,"b":142.6,"c":79,"e":81,"v":5.7},{"a":142.6,"b":150.6,"c":79,"e":81,"v":5.5},{"a":150.6,"b":176.3,"c":79,"e":81,"v":5.7},{"a":176.3,"b":180,"c":79,"e":81,"v":5.5},
{"a":60,"b":73,"c":81,"e":83,"v":5.5},{"a":73,"b":116.3,"c":81,"e":83,"v":5.3},{"a":116.3,"b":121.9,"c":81,"e":83,"v":5.5},{"a":121.9,"b":124.6,"c":81,"e":83,"v":5.7},{"a":124.6,"b":136.5,"c":81,"e":83,"v":5.5},{"a":136.5,"b":143,"c":81,"e":83,"v":5.7},{"a":143,"b":156.7,"c":81,"e":83,"v":5.5},{"a":156.7,"b":174.9,"c":81,"e":83,"v":5.7},{"a":174.9,"b":180,"c":81,"e":83,"v":5.5},
{"a":60,"b":67.3,"c":83,"e":85,"v":5.5},{"a":67.3,"b":88.3,"c":83,"e":85,"v":5.3},{"a":88.3,"b":110.1,"c":83,"e":85,"v":5.5},{"a":110.1,"b":117.4,"c":83,"e":85,"v":5.3},{"a":117.4,"b":152.5,"c":83,"e":85,"v":5.5},{"a":152.5,"b":178.2,"c":83,"e":85,"v":5.7},{"a":178.2,"b":180,"c":83,"e":85,"v":5.5},
{"a":60,"b":88.7,"c":85,"e":87,"v":5.3},{"a":88.7,"b":104,"c":85,"e":87,"v":5.5},{"a":104,"b":106.1,"c":85,"e":87,"v":5.7},{"a":106.1,"b":111.5,"c":85,"e":87,"v":5.5},{"a":111.5,"b":119.1,"c":85,"e":87,"v":5.3},{"a":119.1,"b":150.2,"c":85,"e":87,"v":5.5},{"a":150.2,"b":180,"c":85,"e":87,"v":5.7},
{"a":60,"b":71.9,"c":87,"e":89,"v":5.3},{"a":71.9,"b":83,"c":87,"e":89,"v":5.5},{"a":83,"b":96.7,"c":87,"e":89,"v":5.3},{"a":96.7,"b":103.6,"c":87,"e":89,"v":5.5},{"a":103.6,"b":108.2,"c":87,"e":89,"v":5.7},{"a":108.2,"b":113.8,"c":87,"e":89,"v":5.5},{"a":113.8,"b":116.6,"c":87,"e":89,"v":5.3},{"a":116.6,"b":132.2,"c":87,"e":89,"v":5.5},{"a":132.2,"b":142.2,"c":87,"e":89,"v":5.3},{"a":142.2,"b":145.1,"c":87,"e":89,"v":5.5},{"a":145.1,"b":180,"c":87,"e":89,"v":5.7},
{"a":60,"b":64.8,"c":89,"e":91,"v":5.3},{"a":64.8,"b":67.7,"c":89,"e":91,"v":5.5},{"a":67.7,"b":101.7,"c":89,"e":91,"v":5.3},{"a":101.7,"b":113.2,"c":89,"e":91,"v":5.5},{"a":113.2,"b":117.8,"c":89,"e":91,"v":5.3},{"a":117.8,"b":126.9,"c":89,"e":91,"v":5.5},{"a":126.9,"b":131.5,"c":89,"e":91,"v":5.3},{"a":131.5,"b":145.3,"c":89,"e":91,"v":5.5},{"a":145.3,"b":166.9,"c":89,"e":91,"v":5.7},{"a":166.9,"b":180,"c":89,"e":91,"v":5.5},
{"a":60,"b":63.6,"c":91,"e":92,"v":5.3},{"a":63.6,"b":69,"c":91,"e":92,"v":5.5},{"a":69,"b":87.4,"c":91,"e":92,"v":5.3},{"a":87.4,"b":92.1,"c":91,"e":92,"v":5.5},{"a":92.1,"b":131.7,"c":91,"e":92,"v":5.3},{"a":131.7,"b":135.5,"c":91,"e":92,"v":5.5},{"a":135.5,"b":145.1,"c":91,"e":92,"v":5.7},{"a":145.1,"b":151.8,"c":91,"e":92,"v":5.5},{"a":151.8,"b":165.2,"c":91,"e":92,"v":5.7},{"a":165.2,"b":170.9,"c":91,"e":92,"v":5.5},{"a":170.9,"b":174.7,"c":91,"e":92,"v":5.3},{"a":174.7,"b":180,"c":91,"e":92,"v":5.5},
{"a":64,"b":67,"c":1,"e":1.4,"v":4.7},{"a":121,"b":127,"c":1,"e":1.5,"v":4.1},{"a":138.5,"b":141,"c":1,"e":1.7,"v":4.1},{"a":168,"b":180,"c":1,"e":1.4,"v":4.5},{"a":103,"b":106,"c":2.5,"e":3,"v":4.9},{"a":137.6,"b":140.7,"c":6.4,"e":7.7,"v":5.3},{"a":90,"b":92.8,"c":6.6,"e":8,"v":5.3},{"a":97,"b":100,"c":6.9,"e":8.5,"v":4.7},{"a":60,"b":68,"c":7.6,"e":8.5,"v":3.9},{"a":60,"b":69,"c":9.2,"e":9.65,"v":3.7},{"a":111.5,"b":115.5,"c":4.2,"e":5,"v":5.3},
{"a":73,"b":75.1,"c":19.3,"e":19.6,"v":4.9},{"a":64.6,"b":66.3,"c":21,"e":21.9,"v":3.9},{"a":104,"b":109,"c":20.4,"e":21,"v":5.3},{"a":105.5,"b":107.3,"c":21.6,"e":22.2,"v":5.5},{"a":120.8,"b":124.4,"c":19.3,"e":19.9,"v":5.1},{"a":152,"b":156,"c":19.3,"e":19.8,"v":5.3},{"a":138.3,"b":139.3,"c":21.9,"e":22.1,"v":5.3},{"a":112.5,"b":122.9,"c":24.4,"e":25.8,"v":5.1},{"a":114.5,"b":116,"c":29,"e":30,"v":4.7},{"a":64.2,"b":74.1,"c":30.7,"e":31.6,"v":4.5},{"a":97.1,"b":100.6,"c":30.6,"e":31.9,"v":4.9},{"a":63,"b":66.4,"c":36.5,"e":38.5,"v":4.7},{"a":64.4,"b":66.2,"c":38.5,"e":39.3,"v":4.7},{"a":73.8,"b":74.3,"c":36.8,"e":37.2,"v":5.7},{"a":121.3,"b":123.6,"c":36.75,"e":38,"v":6.3},{"a":102.5,"b":107.3,"c":42.6,"e":43.4,"v":5.3},{"a":81.8,"b":82.3,"c":42.7,"e":43.3,"v":6.1},
{"a":87.4,"b":91.6,"c":48.2,"e":49.7,"v":6.3},{"a":89,"b":90.5,"c":47.7,"e":48.2,"v":6.3},{"a":122,"b":124.5,"c":50.2,"e":51,"v":5.9},{"a":146.2,"b":148.7,"c":48.8,"e":49.2,"v":4.9},{"a":81,"b":82.4,"c":52,"e":52.4,"v":5.5},{"a":115.9,"b":123.8,"c":54.6,"e":55.5,"v":5.1},{"a":97.3,"b":100.2,"c":57.6,"e":58.5,"v":6.3},{"a":89.9,"b":92.5,"c":60.7,"e":61.3,"v":6.1},{"a":122.1,"b":123.3,"c":60.9,"e":61.1,"v":5.1},{"a":177,"b":180,"c":61.3,"e":64.6,"v":5.5},{"a":103.5,"b":106.8,"c":65,"e":65.7,"v":6.1},{"a":96.5,"b":103.5,"c":66.5,"e":67.5,"v":6.1},{"a":73.8,"b":76,"c":66.8,"e":67.1,"v":5.7},{"a":111.9,"b":114.9,"c":66.9,"e":67.1,"v":6.1},{"a":120,"b":125,"c":66.5,"e":67.3,"v":5.7},{"a":125,"b":129,"c":66.8,"e":67.1,"v":5.7},{"a":176.3,"b":180,"c":66.1,"e":67.7,"v":4.9},{"a":179.3,"b":180,"c":66.6,"e":67.3,"v":4.7},
{"a":130.4,"b":131.6,"c":68.2,"e":71,"v":5.7},{"a":88.1,"b":91,"c":69.5,"e":70.2,"v":5.9},{"a":97.7,"b":103.2,"c":69.9,"e":70.3,"v":5.5},{"a":162.7,"b":164.2,"c":69.7,"e":70.2,"v":4.9},{"a":71.9,"b":74.7,"c":72.2,"e":73.4,"v":4.9},{"a":97.9,"b":99.4,"c":72.9,"e":73.1,"v":5.9},{"a":89.7,"b":90.5,"c":75.6,"e":76.2,"v":5.3},{"a":162.9,"b":165.3,"c":78.5,"e":79.1,"v":5.5},{"a":80.1,"b":85,"c":81.3,"e":82.9,"v":5.1},{"a":162.9,"b":165,"c":81.7,"e":82.3,"v":5.9},{"a":136.5,"b":143,"c":83,"e":84,"v":5.7},{"a":72,"b":76.5,"c":84.2,"e":85.7,"v":5.1},{"a":133,"b":141,"c":86.1,"e":87,"v":5.3},{"a":89.5,"b":90.6,"c":87.7,"e":88.3,"v":5.1},{"a":138.6,"b":139.3,"c":87.7,"e":88.2,"v":5.1},{"a":153.5,"b":156.4,"c":87.4,"e":88.4,"v":5.9},{"a":135.5,"b":145,"c":90,"e":91,"v":5.7},{"a":87.4,"b":92.1,"c":90.5,"e":91,"v":5.5}
],"dash":[{"x":130.4,"d":1,"d2":92},{"x":140,"d":1,"d2":92}],"purple":[{"x":140,"d":33.8,"d2":46.1},{"x":140,"d":50.8,"d2":55.1},{"x":140,"d":58.8,"d2":62.1},{"x":140,"d":64.8,"d2":70.1},{"x":140,"d":75.8,"d2":79.1},{"x":140,"d":89.8,"d2":91.1}],"ticks":[{"x":56.8,"x2":60,"d":1},{"x":56.8,"x2":60,"d":31},{"x":56.8,"x2":60,"d":62},{"x":56.8,"x2":60,"d":92},{"x":180,"x2":183.2,"d":31},{"x":180,"x2":183.2,"d":62},{"x":180,"x2":183.2,"d":92},{"x":180,"x2":183,"d":1}],"labels":[{"x":60.2,"d":96.8,"t":"MLS  WV  30°N−40°N  at  400  K"}],"months":[{"x":51.4,"d":77.1,"t":"SEPTEMBER"},{"x":51.4,"d":46.6,"t":"AUGUST"},{"x":51.4,"d":16,"t":"JULY"},{"x":47.1,"d":46.6,"t":"2018"}],"bar":[{"lo":3.5,"hi":3.6,"v":3.55},{"lo":3.6,"hi":3.8,"v":3.7},{"lo":3.8,"hi":4,"v":3.9},{"lo":4,"hi":4.2,"v":4.1},{"lo":4.2,"hi":4.4,"v":4.3},{"lo":4.4,"hi":4.6,"v":4.5},{"lo":4.6,"hi":4.8,"v":4.7},{"lo":4.8,"hi":5,"v":4.9},{"lo":5,"hi":5.2,"v":5.1},{"lo":5.2,"hi":5.4,"v":5.3},{"lo":5.4,"hi":5.6,"v":5.5},{"lo":5.6,"hi":5.8,"v":5.7},{"lo":5.8,"hi":6,"v":5.9},{"lo":6,"hi":6.2,"v":6.1},{"lo":6.2,"hi":6.4,"v":6.3},{"lo":6.4,"hi":6.5,"v":6.45}],"minor":[{"y":3.5},{"y":3.7},{"y":3.8},{"y":3.9},{"y":4.1},{"y":4.2},{"y":4.3},{"y":4.5},{"y":4.6},{"y":4.7},{"y":4.9},{"y":5},{"y":5.1},{"y":5.3},{"y":5.4},{"y":5.5},{"y":5.7},{"y":5.8},{"y":5.9},{"y":6.1},{"y":6.2},{"y":6.3},{"y":6.5}]},
"config":{"view":{"stroke":null},"axis":{"labelFont":"Liberation Sans","labelColor":"black","grid":false,"title":null,"domainColor":"black","tickColor":"black"}},
"hconcat":[{"width":1640,"height":1637,"layer":[
{"data":{"name":"cells"},"mark":{"type":"rect","strokeWidth":0.6},"encoding":{"x":{"field":"a","type":"quantitative","scale":{"domain":[60,180],"nice":false,"zero":false},"axis":{"orient":"bottom","values":[60,90,120,150,180],"tickSize":30,"tickWidth":1.5,"domainWidth":2.5,"labelFontSize":46,"labelPadding":18,"labelFlush":false,"labelExpr":"datum.value<=90?datum.value+'°E':datum.value+'°'"}},"x2":{"field":"b"},"y":{"field":"c","type":"quantitative","scale":{"domain":[1,92],"nice":false,"zero":false},"axis":{"orient":"left","values":[5,10,15,20,25,31,36,41,46,51,56,62,67,72,77,82,87,92],"tickSize":15,"tickWidth":1.5,"domainWidth":2.5,"labelFontSize":46,"labelAngle":-90,"labelPadding":20,"labelOverlap":false,"labelFlush":false,"labelBound":false,"labelExpr":"datum.value<=31?datum.value:datum.value<=62?datum.value-31:datum.value-62"}},"y2":{"field":"e"},"color":{"field":"v","type":"quantitative","legend":null,"scale":{"type":"threshold","domain":[3.6,3.8,4,4.2,4.4,4.6,4.8,5,5.2,5.4,5.6,5.8,6,6.2,6.4],"range":["#0000a0","#0000ff","#0055ff","#0088ff","#00bbff","#00eeff","#00ffd5","#00ff55","#ffff00","#ffcc00","#ff9900","#ff6600","#ff0000","#ff5555","#ff8888","#ffb3b3"]}},"stroke":{"field":"v","type":"quantitative","legend":null,"scale":{"type":"threshold","domain":[3.6,3.8,4,4.2,4.4,4.6,4.8,5,5.2,5.4,5.6,5.8,6,6.2,6.4],"range":["#0000a0","#0000ff","#0055ff","#0088ff","#00bbff","#00eeff","#00ffd5","#00ff55","#ffff00","#ffcc00","#ff9900","#ff6600","#ff0000","#ff5555","#ff8888","#ffb3b3"]}}}},
{"data":{"name":"dash"},"mark":{"type":"rule","color":"black","strokeWidth":2,"strokeDash":[13,9]},"encoding":{"x":{"field":"x","type":"quantitative","scale":{"domain":[60,180],"nice":false,"zero":false},"axis":{"orient":"top","values":[60,90,120,150,180],"tickSize":30,"tickWidth":1.5,"domainWidth":2.5,"labels":false}},"y":{"field":"d","type":"quantitative","scale":{"domain":[1,92],"nice":false,"zero":false},"axis":{"orient":"right","values":[5,10,15,20,25,31,36,41,46,51,56,62,67,72,77,82,87,92],"tickSize":15,"tickWidth":1.5,"domainWidth":2.5,"labels":false}},"y2":{"field":"d2"}}},
{"data":{"name":"purple"},"mark":{"type":"rule","color":"#9000a8","strokeWidth":10.5,"strokeCap":"round"},"encoding":{"x":{"field":"x","type":"quantitative","scale":{"domain":[60,180],"nice":false,"zero":false},"axis":null},"y":{"field":"d","type":"quantitative","scale":{"domain":[1,92],"nice":false,"zero":false},"axis":null},"y2":{"field":"d2"}}},
{"data":{"name":"ticks"},"mark":{"type":"rule","color":"black","strokeWidth":2,"clip":false},"encoding":{"x":{"field":"x","type":"quantitative","scale":{"domain":[60,180],"nice":false,"zero":false},"axis":null},"x2":{"field":"x2"},"y":{"field":"d","type":"quantitative","scale":{"domain":[1,92],"nice":false,"zero":false},"axis":null}}},
{"data":{"name":"labels"},"mark":{"type":"text","font":"Liberation Sans","fontSize":54,"align":"left","baseline":"alphabetic","color":"black"},"encoding":{"x":{"field":"x","type":"quantitative","scale":{"domain":[60,180],"nice":false,"zero":false},"axis":null},"y":{"field":"d","type":"quantitative","scale":{"domain":[1,92],"nice":false,"zero":false},"axis":null},"text":{"field":"t"}}},
{"data":{"name":"months"},"mark":{"type":"text","font":"Liberation Sans","fontSize":46,"angle":270,"align":"center","baseline":"middle","color":"black"},"encoding":{"x":{"field":"x","type":"quantitative","scale":{"domain":[60,180],"nice":false,"zero":false},"axis":null},"y":{"field":"d","type":"quantitative","scale":{"domain":[1,92],"nice":false,"zero":false},"axis":null},"text":{"field":"t"}}}
],"resolve":{"axis":{"x":"independent","y":"independent"},"scale":{"color":"independent","stroke":"independent"}}},
{"width":40,"height":1637,"layer":[
{"data":{"name":"bar"},"mark":{"type":"rect"},"encoding":{"x":{"datum":0,"type":"quantitative","scale":{"domain":[0,1],"nice":false,"zero":false},"axis":null},"x2":{"datum":1},"y":{"field":"lo","type":"quantitative","scale":{"domain":[3.5,10.37],"nice":false,"zero":false},"axis":{"orient":"right","values":[3.6,4,4.4,4.8,5.2,5.6,6,6.4],"domain":false,"tickSize":30,"tickWidth":2,"labelFontSize":38,"labelAlign":"right","labelPadding":81,"labelBaseline":"middle","labelExpr":"format(datum.value,'.1f')=='4.0'?'4':format(datum.value,'.1f')=='6.0'?'6':format(datum.value,'.1f')"}},"y2":{"field":"hi"},"color":{"field":"v","type":"quantitative","legend":null,"scale":{"type":"threshold","domain":[3.6,3.8,4,4.2,4.4,4.6,4.8,5,5.2,5.4,5.6,5.8,6,6.2,6.4],"range":["#0000a0","#0000ff","#0055ff","#0088ff","#00bbff","#00eeff","#00ffd5","#00ff55","#ffff00","#ffcc00","#ff9900","#ff6600","#ff0000","#ff5555","#ff8888","#ffb3b3"]}}}},
{"data":{"name":"minor"},"mark":{"type":"rule","color":"black","strokeWidth":1.5,"clip":false},"encoding":{"x":{"datum":1,"type":"quantitative","scale":{"domain":[0,1],"nice":false,"zero":false},"axis":null},"x2":{"datum":1.375},"y":{"field":"y","type":"quantitative","scale":{"domain":[3.5,10.37],"nice":false,"zero":false},"axis":null}}},
{"data":{"values":[{"lo":3.5,"hi":6.5}]},"mark":{"type":"rule","color":"black","strokeWidth":2.5},"encoding":{"x":{"datum":1,"type":"quantitative","scale":{"domain":[0,1],"nice":false,"zero":false},"axis":null},"y":{"field":"lo","type":"quantitative","scale":{"domain":[3.5,10.37],"nice":false,"zero":false},"axis":null},"y2":{"field":"hi"}}},
{"data":{"values":[{"x":2.75,"y":6.68,"t":"ppmv"}]},"mark":{"type":"text","font":"Liberation Sans","fontSize":40,"align":"center","baseline":"middle","color":"black"},"encoding":{"x":{"field":"x","type":"quantitative","scale":{"domain":[0,1],"nice":false,"zero":false},"axis":null},"y":{"field":"y","type":"quantitative","scale":{"domain":[3.5,10.37],"nice":false,"zero":false},"axis":null},"text":{"field":"t"}}}
],"resolve":{"axis":{"x":"independent","y":"independent"}}}]}
